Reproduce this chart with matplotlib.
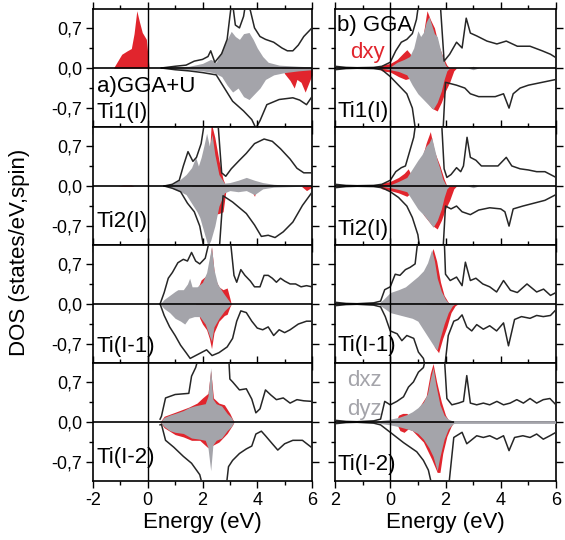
import numpy as np
import matplotlib
matplotlib.use('Agg')
from matplotlib import pyplot as plt

plt.rcParams['font.family'] = ['Liberation Sans', 'DejaVu Sans']

# ---- data: [energy (eV), DOS] pairs, spin up > 0, spin down < 0 ----
# a) GGA+U, Ti1(I)
u1_red_up = [[-1.25,0],[-1.1,0.12],[-0.95,0.24],[-0.75,0.3],[-0.6,0.34],[-0.5,0.6],[-0.4,1.0],[-0.3,0.8],[-0.2,0.62],[-0.05,0.5],[0.05,0],[2.2,0],[2.3,0.1],[2.4,0]]
u1_red_dn = [[4.9,0],[5.0,-0.1],[5.2,-0.22],[5.35,-0.35],[5.45,-0.2],[5.6,-0.25],[5.75,-0.42],[5.85,-0.3],[6.0,-0.12]]
u1_gray_up = [[0.6,0],[1.0,0.02],[1.5,0.03],[2.0,0.08],[2.3,0.15],[2.5,0.1],[2.7,0.3],[2.9,0.5],[3.05,0.64],[3.2,0.55],[3.35,0.5],[3.5,0.6],[3.7,0.62],[3.85,0.5],[4.0,0.35],[4.2,0.2],[4.4,0.1],[4.8,0.05],[5.5,0.03],[6.0,0.02]]
u1_gray_dn = [[0.6,0],[1.0,-0.02],[1.5,-0.03],[2.0,-0.05],[2.4,-0.08],[2.7,-0.15],[2.9,-0.3],[3.1,-0.42],[3.3,-0.35],[3.5,-0.5],[3.7,-0.55],[3.9,-0.45],[4.1,-0.35],[4.3,-0.2],[4.6,-0.12],[5.0,-0.08],[5.5,-0.05],[6.0,-0.03]]
u1_tot_up = [[0.5,0],[1.0,0.03],[1.4,0.05],[1.7,0.12],[2.0,0.15],[2.2,0.2],[2.3,0.3],[2.45,0.1],[2.7,0.25],[2.9,0.5],[3.0,0.9],[3.08,1.2],[3.2,0.75],[3.35,0.7],[3.5,0.9],[3.6,1.2],[3.75,1.0],[3.9,0.7],[4.1,0.55],[4.3,0.5],[4.6,0.45],[4.9,0.35],[5.1,0.3],[5.3,0.3],[5.5,0.4],[5.7,0.55],[5.9,0.65],[6.0,0.7]]
u1_tot_dn = [[0.5,0],[1.0,-0.03],[1.5,-0.05],[2.0,-0.08],[2.5,-0.12],[2.8,-0.35],[3.1,-0.58],[3.5,-0.75],[3.8,-0.9],[3.95,-1.05],[4.1,-0.92],[4.35,-0.64],[4.8,-0.55],[5.3,-0.52],[5.55,-0.56],[5.8,-0.64],[6.0,-0.5]]

# a) GGA+U, Ti2(I)
u2_red_up = [[-1.1,0],[-0.9,0.015],[-0.6,0.015],[-0.5,0],[2.15,0],[2.25,0.5],[2.32,1.1],[2.45,0.85],[2.6,0.45],[2.75,0.12],[2.85,0]]
u2_red_dn = [[1.6,0],[1.75,-0.32],[1.9,-0.3],[2.0,-0.3],[2.4,-0.5],[2.6,-0.48],[2.75,-0.45],[2.85,-0.1],[2.95,0],[3.7,0],[3.9,-0.18],[4.0,0],[5.6,0],[5.8,-0.08],[6.0,-0.02]]
u2_gray_up = [[0.7,0],[0.9,0.03],[1.15,0.1],[1.4,0.2],[1.6,0.32],[1.75,0.5],[1.85,0.35],[1.95,0.5],[2.05,0.7],[2.15,0.92],[2.25,0.7],[2.35,0.9],[2.45,0.55],[2.6,0.2],[2.8,0.05],[3.0,0.06],[3.3,0.1],[3.6,0.15],[3.9,0.1],[4.2,0.06],[4.6,0.03],[5.2,0.01],[6.0,0]]
u2_gray_dn = [[0.7,0],[0.9,-0.04],[1.2,-0.1],[1.4,-0.15],[1.6,-0.3],[1.8,-0.45],[1.9,-0.55],[2.05,-0.8],[2.2,-1.05],[2.3,-0.95],[2.45,-0.7],[2.6,-0.35],[2.8,-0.12],[3.0,-0.08],[3.3,-0.1],[3.6,-0.08],[3.9,-0.15],[4.2,-0.05],[4.6,-0.02],[6.0,0]]
u2_tot_up = [[0.6,0],[0.9,0.03],[1.15,0.1],[1.3,0.35],[1.47,0.6],[1.65,0.43],[1.78,0.5],[1.95,0.74],[2.1,1.2],[2.55,1.2],[2.7,0.23],[2.85,0.17],[3.05,0.3],[3.35,0.45],[3.6,0.57],[3.9,0.74],[4.25,0.82],[4.55,0.78],[4.85,0.65],[5.2,0.47],[5.45,0.31],[5.7,0.23],[6.0,0.23]]
u2_tot_dn = [[0.6,0],[0.9,-0.04],[1.2,-0.1],[1.45,-0.3],[1.7,-0.45],[1.9,-0.7],[2.1,-1.2],[2.6,-1.2],[2.75,-0.17],[3.1,-0.28],[3.6,-0.48],[3.9,-0.68],[4.15,-0.88],[4.4,-0.86],[4.65,-0.9],[4.95,-0.8],[5.3,-0.63],[5.65,-0.34],[6.0,-0.11]]

# a) GGA+U, Ti(I-1)
u3_red_up = [[1.75,0],[1.85,0.3],[1.95,0.42],[2.1,0.48],[2.2,0.55],[2.33,1.0],[2.45,0.45],[2.6,0.3],[2.75,0.25],[2.9,0.28],[3.0,0.1],[3.05,0]]
u3_red_dn = [[1.75,0],[1.9,-0.25],[2.0,-0.35],[2.15,-0.45],[2.25,-0.6],[2.33,-0.78],[2.42,-0.5],[2.6,-0.3],[2.8,-0.2],[2.9,-0.18],[3.0,-0.05],[3.05,0]]
u3_gray_up = [[0.45,0],[0.6,0.08],[0.8,0.15],[1.0,0.22],[1.1,0.25],[1.3,0.25],[1.45,0.35],[1.53,0.45],[1.62,0.3],[1.8,0.3],[2.0,0.38],[2.15,0.55],[2.25,0.8],[2.33,1.0],[2.42,0.6],[2.55,0.35],[2.75,0.2],[2.9,0.1],[3.05,0]]
u3_gray_dn = [[0.45,0],[0.6,-0.08],[0.8,-0.15],[1.0,-0.25],[1.2,-0.3],[1.35,-0.35],[1.5,-0.25],[1.7,-0.22],[1.9,-0.22],[2.1,-0.35],[2.25,-0.55],[2.33,-0.65],[2.42,-0.4],[2.6,-0.25],[2.8,-0.12],[2.95,-0.05],[3.05,0]]
u3_tot_up = [[0.45,0],[0.6,0.2],[0.75,0.45],[0.9,0.55],[1.1,0.72],[1.3,0.78],[1.45,0.75],[1.6,0.9],[1.75,0.75],[1.9,0.7],[2.1,0.8],[2.3,1.2],[3.0,1.2],[3.15,0.5],[3.25,0.38],[3.4,0.6],[3.55,0.5],[3.75,0.4],[3.9,0.3],[4.1,0.3],[4.25,0.5],[4.4,0.5],[4.55,0.45],[4.7,0.38],[4.85,0.45],[5.0,0.4],[5.2,0.35],[5.4,0.35],[5.6,0.3],[5.8,0.32],[6.0,0.3]]
u3_tot_dn = [[0.45,0],[0.6,-0.2],[0.8,-0.4],[1.0,-0.55],[1.2,-0.72],[1.4,-0.85],[1.55,-0.95],[1.75,-0.9],[1.95,-0.85],[2.15,-0.8],[2.35,-0.9],[2.6,-0.85],[2.9,-0.75],[3.1,-0.6],[3.25,-0.3],[3.4,-0.12],[3.6,-0.15],[3.8,-0.3],[4.0,-0.42],[4.2,-0.45],[4.4,-0.4],[4.6,-0.55],[4.8,-0.45],[5.0,-0.5],[5.2,-0.45],[5.5,-0.35],[5.8,-0.3],[6.0,-0.3]]

# a) GGA+U, Ti(I-2)
u4_red_up = [[0.45,0],[0.6,0.1],[1.0,0.17],[1.5,0.26],[1.8,0.33],[2.0,0.42],[2.2,0.5],[2.3,0.9],[2.4,0.42],[2.6,0.33],[2.8,0.3],[3.0,0.15],[3.15,0]]
u4_red_dn = [[0.45,0],[0.6,-0.1],[1.0,-0.22],[1.3,-0.26],[1.6,-0.32],[1.9,-0.32],[2.2,-0.45],[2.4,-0.4],[2.6,-0.35],[2.9,-0.2],[3.1,-0.05],[3.15,0]]
u4_gray_up = [[0.45,0],[0.6,0.08],[0.8,0.12],[1.0,0.15],[1.3,0.2],[1.5,0.25],[1.7,0.28],[1.9,0.3],[2.1,0.32],[2.2,0.45],[2.3,0.95],[2.38,0.4],[2.5,0.32],[2.7,0.28],[2.9,0.15],[3.05,0.08],[3.15,0]]
u4_gray_dn = [[0.45,0],[0.6,-0.08],[0.8,-0.15],[1.0,-0.18],[1.3,-0.2],[1.6,-0.28],[1.9,-0.3],[2.1,-0.32],[2.2,-0.45],[2.3,-0.85],[2.38,-0.4],[2.5,-0.32],[2.7,-0.28],[2.9,-0.15],[3.05,-0.08],[3.15,0]]
u4_tot_up = [[0.45,0.05],[0.5,0.1],[0.65,0.42],[1.0,0.48],[1.5,0.5],[1.6,0.8],[1.75,0.95],[1.9,1.2],[2.95,1.2],[3.0,0.75],[3.1,0.7],[3.35,0.56],[3.6,0.58],[3.8,0.4],[3.95,0.16],[4.1,0.23],[4.3,0.56],[4.5,0.47],[4.7,0.39],[4.95,0.42],[5.2,0.33],[5.45,0.39],[5.7,0.37],[6.0,0.36]]
u4_tot_dn = [[0.45,-0.05],[0.5,-0.04],[0.65,-0.32],[0.95,-0.44],[1.3,-0.6],[1.6,-0.72],[1.9,-0.92],[2.05,-1.2],[2.85,-1.2],[2.95,-0.78],[3.1,-0.67],[3.35,-0.55],[3.6,-0.47],[3.8,-0.42],[3.95,-0.21],[4.15,-0.16],[4.3,-0.24],[4.55,-0.38],[4.75,-0.49],[5.0,-0.38],[5.3,-0.32],[5.65,-0.32],[6.0,-0.45]]

# b) GGA, Ti1(I)
g1_red_up = [[-0.45,0],[-0.3,0.05],[0,0.08],[0.25,0.15],[0.45,0.25],[0.6,0.32],[0.72,0.25],[0.85,0.15],[1.0,0.2],[1.2,0.6],[1.33,1.0],[1.45,0.85],[1.6,0.7],[1.75,0.4],[1.9,0.2],[2.05,0.05],[2.15,0]]
g1_red_dn = [[-0.45,0],[-0.3,-0.05],[0,-0.07],[0.3,-0.15],[0.55,-0.2],[0.7,-0.18],[0.9,-0.1],[1.2,-0.5],[1.5,-0.7],[1.7,-0.75],[1.85,-0.6],[2.0,-0.4],[2.15,-0.25],[2.3,-0.05],[2.4,0]]
g1_gray_up = [[-0.35,0],[0,0.02],[0.25,0.1],[0.5,0.15],[0.7,0.2],[0.85,0.35],[1.0,0.65],[1.1,0.55],[1.2,0.62],[1.3,0.8],[1.4,0.9],[1.5,0.75],[1.6,0.6],[1.7,0.55],[1.8,0.35],[1.9,0.18],[2.0,0.05],[2.1,0],[2.8,0],[3.0,0.03],[3.2,0]]
g1_gray_dn = [[-0.35,0],[0,-0.03],[0.3,-0.06],[0.6,-0.12],[0.8,-0.3],[1.0,-0.45],[1.2,-0.55],[1.4,-0.65],[1.55,-0.72],[1.7,-0.6],[1.85,-0.4],[1.95,-0.2],[2.05,-0.05],[2.15,0],[2.8,0],[3.0,-0.03],[3.2,0]]
g1_tot_up = [[-2.0,0.03],[-1.6,0.01],[-1.2,0.005],[-0.6,0.01],[-0.3,0.03],[0,0.1],[0.2,0.3],[0.4,0.45],[0.6,0.5],[0.8,0.6],[0.95,0.85],[1.05,1.2],[1.8,1.2],[1.95,0.12],[2.15,0.24],[2.4,0.45],[2.6,0.35],[2.75,0.87],[2.9,0.61],[3.13,0.56],[3.5,0.47],[3.86,0.42],[4.2,0.47],[4.6,0.38],[5.06,0.38],[5.5,0.3],[5.8,0.24],[6.0,0.18]]
g1_tot_dn = [[-2.0,-0.03],[-1.6,-0.01],[-1.2,-0.005],[-0.6,-0.01],[-0.3,-0.03],[0,-0.15],[0.3,-0.3],[0.6,-0.45],[0.8,-0.7],[0.95,-1.2],[1.9,-1.2],[2.0,-0.25],[2.4,-0.3],[2.7,-0.35],[2.9,-0.45],[3.2,-0.5],[3.5,-0.5],[3.8,-0.5],[4.1,-0.45],[4.3,-0.7],[4.45,-0.45],[4.7,-0.35],[5.0,-0.3],[5.5,-0.25],[6.0,-0.2]]

# b) GGA, Ti2(I)
g2_red_up = [[-0.45,0],[-0.3,0.05],[0,0.08],[0.3,0.15],[0.5,0.22],[0.65,0.3],[0.75,0.2],[0.9,0.1],[1.1,0.4],[1.3,0.75],[1.45,0.95],[1.6,0.6],[1.8,0.35],[1.95,0.12],[2.05,0]]
g2_red_dn = [[-0.45,0],[-0.3,-0.05],[0,-0.08],[0.3,-0.12],[0.6,-0.18],[0.75,-0.12],[0.9,-0.08],[1.2,-0.5],[1.5,-0.68],[1.7,-0.75],[1.85,-0.6],[2.0,-0.4],[2.15,-0.25],[2.3,-0.05],[2.4,0]]
g2_gray_up = [[-0.35,0],[0,0.02],[0.3,0.08],[0.6,0.15],[0.8,0.3],[1.0,0.45],[1.15,0.55],[1.3,0.7],[1.4,0.75],[1.5,0.85],[1.6,0.65],[1.7,0.45],[1.8,0.3],[1.9,0.12],[2.0,0.03],[2.1,0],[2.8,0],[3.0,0.03],[3.2,0]]
g2_gray_dn = [[-0.35,0],[0,-0.03],[0.3,-0.06],[0.6,-0.1],[0.8,-0.25],[1.0,-0.4],[1.2,-0.5],[1.4,-0.62],[1.55,-0.72],[1.7,-0.6],[1.85,-0.4],[1.95,-0.2],[2.05,-0.05],[2.15,0],[2.8,0],[3.0,-0.03],[3.2,0]]
g2_tot_up = [[-2.0,0.03],[-1.6,0.01],[-1.2,0.005],[-0.6,0.01],[-0.3,0.03],[0,0.1],[0.2,0.25],[0.4,0.32],[0.55,0.35],[0.7,0.6],[0.85,0.85],[0.95,1.2],[1.85,1.2],[1.95,0.3],[2.05,0.15],[2.2,0.2],[2.4,0.32],[2.55,0.25],[2.65,0.35],[2.78,0.85],[2.9,0.5],[3.1,0.45],[3.3,0.35],[3.6,0.35],[3.9,0.35],[4.2,0.5],[4.4,0.35],[4.7,0.3],[5.0,0.28],[5.3,0.25],[5.6,0.25],[5.8,0.2],[6.0,0.15]]
g2_tot_dn = [[-2.0,-0.03],[-1.6,-0.01],[-1.2,-0.005],[-0.6,-0.01],[-0.3,-0.03],[0,-0.1],[0.3,-0.2],[0.6,-0.35],[0.8,-0.55],[1.0,-0.85],[1.1,-1.2],[1.9,-1.2],[2.0,-0.35],[2.2,-0.4],[2.4,-0.35],[2.6,-0.45],[2.9,-0.5],[3.2,-0.42],[3.6,-0.38],[4.0,-0.4],[4.15,-0.45],[4.3,-0.7],[4.45,-0.4],[4.8,-0.35],[5.2,-0.3],[5.6,-0.25],[6.0,-0.15]]

# b) GGA, Ti(I-1)
g3_red_up = [[1.3,0],[1.45,0.8],[1.55,0.97],[1.68,0.75],[1.82,0.38],[1.95,0.15],[2.1,0.03],[2.2,0]]
g3_red_dn = [[1.5,0],[1.6,-0.75],[1.75,-0.85],[1.9,-0.6],[2.05,-0.4],[2.2,-0.15],[2.35,-0.03],[2.45,0]]
g3_gray_up = [[-0.45,0],[-0.25,0.08],[0,0.2],[0.3,0.25],[0.55,0.3],[0.8,0.4],[1.0,0.48],[1.2,0.58],[1.35,0.72],[1.5,0.95],[1.6,0.75],[1.7,0.45],[1.85,0.22],[2.0,0.08],[2.15,0]]
g3_gray_dn = [[-0.45,0],[-0.2,-0.08],[0,-0.15],[0.4,-0.2],[0.8,-0.25],[1.0,-0.3],[1.2,-0.45],[1.4,-0.6],[1.6,-0.75],[1.7,-0.8],[1.8,-0.6],[1.95,-0.35],[2.1,-0.15],[2.25,-0.03],[2.35,0]]
g3_tot_up = [[-2,0.03],[-1.6,0.01],[-1.2,0.005],[-0.6,0.02],[-0.35,0.05],[-0.2,0.25],[0,0.3],[0.18,0.52],[0.35,0.5],[0.55,0.6],[0.72,0.64],[0.9,0.7],[1.02,1.2],[1.95,1.2],[2.0,0.52],[2.17,0.41],[2.4,0.47],[2.6,0.32],[2.72,0.73],[2.9,0.41],[3.1,0.45],[3.35,0.35],[3.6,0.3],[3.85,0.21],[4.1,0.41],[4.35,0.24],[4.6,0.2],[4.95,0.35],[5.3,0.21],[5.55,0.26],[5.8,0.15],[6.0,0.2]]
g3_tot_dn = [[-2,-0.03],[-1.6,-0.01],[-1.2,-0.005],[-0.6,-0.02],[-0.35,-0.05],[-0.18,-0.22],[0,-0.47],[0.25,-0.52],[0.42,-0.64],[0.6,-0.55],[0.85,-0.6],[1.02,-0.84],[1.2,-0.95],[1.32,-1.2],[1.95,-1.2],[2.1,-0.55],[2.3,-0.3],[2.45,-0.27],[2.6,-0.19],[2.77,-0.4],[2.95,-0.47],[3.13,-0.36],[3.37,-0.44],[3.6,-0.38],[3.85,-0.47],[4.1,-0.33],[4.28,-0.73],[4.5,-0.27],[4.75,-0.22],[5.06,-0.25],[5.3,-0.2],[5.54,-0.22],[5.8,-0.2],[6.0,-0.1]]

# b) GGA, Ti(I-2)
g4_red_up = [[0.2,0],[0.3,0.12],[0.45,0.15],[0.6,0.15],[0.7,0.1],[0.8,0.15],[1.0,0.22],[1.3,0.45],[1.45,0.85],[1.55,1.02],[1.68,0.7],[1.85,0.35],[2.0,0.12],[2.15,0]]
g4_red_dn = [[0.2,0],[0.35,-0.15],[0.5,-0.18],[0.65,-0.12],[0.8,-0.15],[1.2,-0.35],[1.5,-0.65],[1.7,-0.88],[1.8,-0.88],[1.9,-0.55],[2.05,-0.25],[2.2,-0.08],[2.3,0]]
g4_gray_up = [[-0.6,0],[-0.3,0.03],[0,0.05],[0.3,0.08],[0.6,0.13],[0.8,0.18],[1.0,0.25],[1.2,0.35],[1.35,0.5],[1.45,0.75],[1.55,0.95],[1.65,0.65],[1.8,0.3],[1.95,0.12],[2.1,0.05],[2.35,0],[6.0,0]]
g4_gray_dn = [[-0.6,0],[-0.3,-0.03],[0,-0.05],[0.3,-0.08],[0.6,-0.12],[0.8,-0.15],[1.0,-0.2],[1.2,-0.3],[1.4,-0.45],[1.55,-0.6],[1.7,-0.85],[1.8,-0.6],[1.95,-0.3],[2.1,-0.12],[2.25,-0.04],[2.4,0],[6.0,0]]
g4_tot_up = [[-2,0.03],[-1.6,0.01],[-1.2,0.005],[-0.6,0.02],[-0.35,0.05],[-0.2,0.36],[0,0.3],[0.24,0.36],[0.48,0.44],[0.66,0.61],[0.84,0.7],[1.02,0.87],[1.2,0.95],[1.32,1.2],[1.95,1.2],[2.05,0.41],[2.23,0.3],[2.47,0.33],[2.65,0.36],[2.77,0.81],[2.9,0.33],[3.13,0.3],[3.37,0.33],[3.6,0.3],[3.86,0.36],[4.1,0.3],[4.34,0.33],[4.58,0.39],[4.82,0.33],[5.06,0.41],[5.3,0.33],[5.54,0.39],[5.78,0.41],[6.0,0.3]]
g4_tot_dn = [[-2,-0.03],[-1.6,-0.01],[-1.2,-0.005],[-0.6,-0.02],[-0.35,-0.05],[0,-0.18],[0.24,-0.27],[0.48,-0.36],[0.72,-0.44],[0.96,-0.52],[1.2,-0.67],[1.38,-0.84],[1.55,-1.2],[2.1,-1.2],[2.3,-0.27],[2.6,-0.18],[2.77,-0.38],[2.9,-0.33],[3.13,-0.24],[3.37,-0.27],[3.6,-0.24],[3.86,-0.3],[4.1,-0.24],[4.3,-0.5],[4.5,-0.27],[4.8,-0.24],[5.06,-0.27],[5.3,-0.21],[5.54,-0.3],[5.78,-0.24],[6.0,-0.18]]

site_names = ['Ti1(I)', 'Ti2(I)', 'Ti(I-1)', 'Ti(I-2)']
ggau_panels = [
    (u1_red_up, u1_red_dn, u1_gray_up, u1_gray_dn, u1_tot_up, u1_tot_dn),
    (u2_red_up, u2_red_dn, u2_gray_up, u2_gray_dn, u2_tot_up, u2_tot_dn),
    (u3_red_up, u3_red_dn, u3_gray_up, u3_gray_dn, u3_tot_up, u3_tot_dn),
    (u4_red_up, u4_red_dn, u4_gray_up, u4_gray_dn, u4_tot_up, u4_tot_dn),
]
gga_panels = [
    (g1_red_up, g1_red_dn, g1_gray_up, g1_gray_dn, g1_tot_up, g1_tot_dn),
    (g2_red_up, g2_red_dn, g2_gray_up, g2_gray_dn, g2_tot_up, g2_tot_dn),
    (g3_red_up, g3_red_dn, g3_gray_up, g3_gray_dn, g3_tot_up, g3_tot_dn),
    (g4_red_up, g4_red_dn, g4_gray_up, g4_gray_dn, g4_tot_up, g4_tot_dn),
]
left_label_y = [0.12, 0.195, 0.144, 0.2]
right_label_y = [0.13, 0.135, 0.15, 0.136]

RED = '#e1252d'
GRAY = '#a4a4aa'
LINE = '#262626'
FS = 16      # labels inside panels, axis titles
TFS = 13     # tick labels

W, H = 565., 540.
fig = plt.figure(figsize=(W / 100, H / 100), dpi=100)

col_left = [93, 335]
col_width = [219, 221]
top0, ph = 9, 118


def arr(pairs):
    a = np.array(pairs, dtype=float)
    return a[:, 0], a[:, 1]


for col, panels in enumerate([ggau_panels, gga_panels]):
    for row, curves in enumerate(panels):
        top = top0 + ph * row
        ax = fig.add_axes([col_left[col] / W, 1 - (top + ph) / H, col_width[col] / W, ph / H])
        red_up, red_dn, gray_up, gray_dn, tot_up, tot_dn = curves
        for c in (red_up, red_dn):
            e, v = arr(c)
            ax.fill_between(e, 0, v, color=RED, lw=0, zorder=1)
        for c in (gray_up, gray_dn):
            e, v = arr(c)
            ax.fill_between(e, 0, v, color=GRAY, lw=0, zorder=2)
        if col == 1 and row == 3:
            e, v = arr(gray_up)
            ax.plot(e[e >= 2.3], v[e >= 2.3], color=GRAY, lw=2.0, zorder=5)
        for c in (tot_up, tot_dn):
            e, v = arr(c)
            ax.plot(e, v, color=LINE, lw=1.1, zorder=3)
        ax.axhline(0, color='black', lw=1.2, zorder=4)
        ax.axvline(0, color='black', lw=1.0, zorder=4)

        ax.set_xlim(-2, 6)
        ax.set_ylim(-1.03, 1.03)
        ax.set_xticks([-2, 0, 2, 4, 6])
        ax.set_xticks([-1, 1, 3, 5], minor=True)
        ax.set_yticks([-0.7, 0, 0.7])
        ax.set_yticks([-0.35, 0.35], minor=True)
        ax.tick_params(which='both', direction='out', top=True, right=True,
                       width=1.0, labelsize=TFS, pad=3)
        ax.tick_params(which='major', length=5)
        ax.tick_params(which='minor', length=3)
        for s in ax.spines.values():
            s.set_linewidth(1.2)

        if col == 0:
            ax.set_yticklabels(['-0,7', '0,0', '0,7'])
        else:
            ax.set_yticklabels([])
        if row == 3:
            if col == 0:
                ax.set_xticklabels(['-2', '0', '2', '4', '6'])
            else:
                ax.set_xticklabels(['2', '0', '2', '4', '6'])
            ax.set_xlabel('Energy (eV)', fontsize=FS, labelpad=2)
        else:
            ax.set_xticklabels([])

        ly = left_label_y[row] if col == 0 else right_label_y[row]
        lx = 0.018 if col == 0 else 0.01
        ax.text(lx, ly, site_names[row], transform=ax.transAxes, fontsize=FS,
                va='center', ha='left', zorder=6)

        if col == 0 and row == 0:
            ax.text(0.018, 0.34, 'a)GGA+U', transform=ax.transAxes, fontsize=FS,
                    va='center', ha='left', zorder=6)
        if col == 1 and row == 0:
            ax.text(0.01, 0.856, 'b) GGA', transform=ax.transAxes, fontsize=FS,
                    va='center', ha='left', zorder=6)
            ax.text(0.068, 0.63, 'dxy', transform=ax.transAxes, fontsize=FS,
                    color=RED, va='center', ha='left', zorder=6)
        if col == 1 and row == 3:
            ax.text(0.055, 0.85, 'dxz', transform=ax.transAxes, fontsize=FS,
                    color=GRAY, va='center', ha='left', zorder=6)
            ax.text(0.055, 0.61, 'dyz', transform=ax.transAxes, fontsize=FS,
                    color=GRAY, va='center', ha='left', zorder=6)

fig.text(0.035, 0.533, 'DOS (states/eV,spin)', rotation=90, fontsize=FS,
         va='center', ha='center')

fig.savefig('out.png', dpi=100)
